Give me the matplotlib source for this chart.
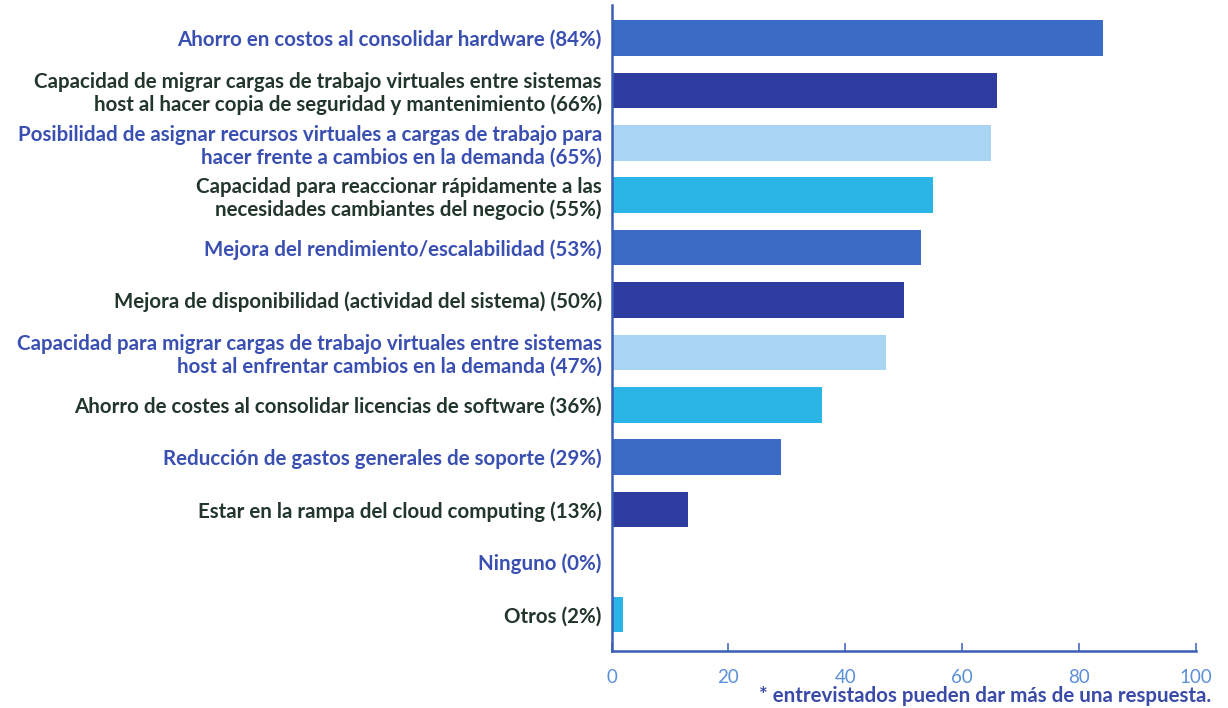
import matplotlib.pyplot as plt

# survey answers, top to bottom
labels = [
    'Ahorro en costos al consolidar hardware (84%)',
    'Capacidad de migrar cargas de trabajo virtuales entre sistemas\nhost al hacer copia de seguridad y mantenimiento (66%)',
    'Posibilidad de asignar recursos virtuales a cargas de trabajo para\nhacer frente a cambios en la demanda (65%)',
    'Capacidad para reaccionar rápidamente a las\nnecesidades cambiantes del negocio (55%)',
    'Mejora del rendimiento/escalabilidad (53%)',
    'Mejora de disponibilidad (actividad del sistema) (50%)',
    'Capacidad para migrar cargas de trabajo virtuales entre sistemas\nhost al enfrentar cambios en la demanda (47%)',
    'Ahorro de costes al consolidar licencias de software (36%)',
    'Reducción de gastos generales de soporte (29%)',
    'Estar en la rampa del cloud computing (13%)',
    'Ninguno (0%)',
    'Otros (2%)',
]
values = [84, 66, 65, 55, 53, 50, 47, 36, 29, 13, 0, 2]
xticks = [0, 20, 40, 60, 80, 100]

bar_cycle = ['#3a6cc6', '#2d3c9e', '#a9d5f3', '#2bb5e6']
label_cycle = ['#3a4fb2', '#22362c']

fig = plt.figure(figsize=(12.28, 7.08), dpi=100)
ax = fig.add_axes([0.498, 0.0805, 0.476, 0.9125])

ypos = list(range(len(values)))
colors = [bar_cycle[i % 4] for i in ypos]
ax.barh(ypos, values, height=0.68, color=colors)

ax.set_ylim(len(values) - 0.3, -0.63)
ax.set_xlim(0, 100)

ax.set_yticks(ypos)
ax.set_yticklabels(labels, fontsize=14.8, fontweight='bold', family='Lato',
                   multialignment='right', linespacing=1.15)
for i, t in enumerate(ax.get_yticklabels()):
    t.set_color(label_cycle[i % 2])
ax.tick_params(axis='y', length=0, pad=7)

ax.set_xticks(xticks)
ax.set_xticklabels([str(x) for x in xticks], fontsize=13.5, family='Lato', color='#5b8fd8')
ax.tick_params(axis='x', direction='in', length=6, width=1.2, color='#4a6cc0', pad=13)

for s in ['top', 'right']:
    ax.spines[s].set_visible(False)
for s in ['left', 'bottom']:
    ax.spines[s].set_color('#3a5db5')
    ax.spines[s].set_linewidth(1.8)

fig.text(0.986, 0.003, '* entrevistados pueden dar más de una respuesta.',
         ha='right', va='bottom', fontsize=14.8, fontweight='bold',
         family='Lato', color='#3a4aa8')

fig.savefig('out.png')
